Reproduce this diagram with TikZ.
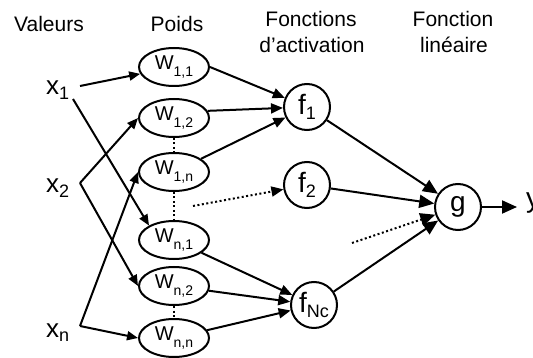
\documentclass[tikz,border=0pt]{standalone}
\usepackage{fontspec}
\setmainfont{Liberation Sans}
\usetikzlibrary{arrows.meta,shapes.geometric}
\newcommand{\wsub}[1]{\raisebox{-7pt}{\fontsize{14}{14}\selectfont #1}}
\newcommand{\bsub}[1]{\raisebox{-5pt}{\fontsize{18}{18}\selectfont #1}}
\begin{document}
\begin{tikzpicture}[x=1pt,y=-1pt,line width=2pt,
  wnode/.style={ellipse,draw,minimum width=70pt,minimum height=38pt,inner sep=0pt,font=\fontsize{20}{20}\selectfont},
  fnode/.style={circle,draw,minimum size=46pt,inner sep=0pt,font=\fontsize{28}{28}\selectfont},
  head/.style={anchor=base,inner sep=0pt,font=\fontsize{21}{21}\selectfont},
  xlab/.style={anchor=base west,inner sep=0pt,font=\fontsize{26}{26}\selectfont},
  wa/.style={-{Triangle[length=11pt,width=9pt]}},
  fa/.style={-{Triangle[length=12pt,width=10pt]}},
  ga/.style={-{Triangle[length=15pt,width=13pt]}},
  dots/.style={dash pattern=on 2pt off 2.5pt}]
\useasboundingbox (0,0) rectangle (533,358);
% headers
\node[head] (h1) at (49,32) {Valeurs};
\node[head] (h2) at (177,32) {Poids};
\node[head] (h3a) at (311,27) {Fonctions};
\node[head] (h3b) at (312,53) {d’activation};
\node[head] (h4a) at (453,27) {Fonction};
\node[head] (h4b) at (454,53) {linéaire};
% inputs
\node[xlab] (x1) at (45,95) {x\bsub{1}};
\node[xlab] (x2) at (45,193) {x\bsub{2}};
\node[xlab] (xn) at (45,337) {x\bsub{n}};
\coordinate (x1a) at (80,86);
\coordinate (x1b) at (73,99);
\coordinate (x2v) at (80,183);
\coordinate (xnv) at (80,326);
% weights
\node[wnode] (W11) at (174,67) {W\wsub{1,1}};
\node[wnode] (W12) at (174,118) {W\wsub{1,2}};
\node[wnode] (W1n) at (174,172) {W\wsub{1,n}};
\node[wnode] (Wn1) at (174,240) {W\wsub{n,1}};
\node[wnode] (Wn2) at (174,286) {W\wsub{n,2}};
\node[wnode] (Wnn) at (174,338) {W\wsub{n,n}};
% activation
\node[fnode] (f1) at (307,107) {f\bsub{1}};
\node[fnode] (f2) at (307,185) {f\bsub{2}};
\node[fnode] (fN) at (314,305) {f\bsub{Nc}};
\node[fnode] (g) at (458,207) {g};
\node[anchor=west,inner sep=0pt,font=\fontsize{28}{28}\selectfont] (y) at (525,203) {y};
\coordinate (yend) at (517,207);
\coordinate (d1) at (193,206);
\coordinate (d2) at (352,243);
% input connectors
\draw[wa] (x1a) -- (W11);
\draw[wa] (x1b) -- (Wn1.150);
\draw[wa] (x2v) -- (W12.west);
\draw[wa] (x2v) -- (Wn2.west);
\draw[wa] (xnv) -- (W1n.west);
\draw[wa] (xnv) -- (Wnn.west);
% dotted between weights
\draw[dots] (W12) -- (W1n);
\draw[dots] (W1n) -- (Wn1);
\draw[dots] (Wn2) -- (Wnn);
% weights to activations
\draw[fa] (W11.east) -- (f1);
\draw[fa] (W12.12) -- (f1);
\draw[fa] (W1n) -- (f1);
\draw[fa] (Wn1) -- (fN);
\draw[fa] (Wn2) -- (fN);
\draw[fa] (Wnn) -- (fN);
\draw[fa,dots] (d1) -- (f2);
% to g
\draw[ga] (f1) -- (g);
\draw[ga] (f2) -- (g);
\draw[ga] (fN) -- (g);
\draw[ga,dots] (d2) -- (g);
\draw[ga] (g) -- (yend);
\end{tikzpicture}
\end{document}
